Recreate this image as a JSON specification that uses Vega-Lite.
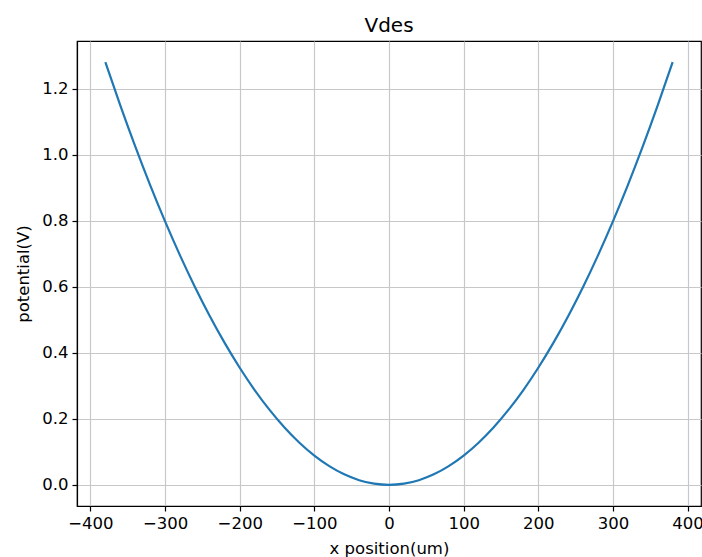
{
  "$schema": "https://vega.github.io/schema/vega-lite/v6.json",
  "autosize": "none",
  "width": 624,
  "height": 465,
  "padding": {"left": 77, "top": 41, "right": 1, "bottom": 51},
  "background": "white",
  "title": {"text": "Vdes", "font": "DejaVu Sans", "fontSize": 20, "fontWeight": "normal", "color": "black", "offset": 5},
  "config": {
    "view": {"stroke": "black", "strokeWidth": 1.2},
    "axis": {
      "labelFont": "DejaVu Sans", "labelFontSize": 16.5, "labelColor": "black",
      "titleFont": "DejaVu Sans", "titleFontSize": 16.5, "titleFontWeight": "normal", "titleColor": "black",
      "domainColor": "black", "domainWidth": 1.2,
      "tickColor": "black", "tickSize": 5, "tickWidth": 1.2,
      "gridColor": "#c8c8c8", "gridWidth": 1.2, "labelPadding": 4
    }
  },
  "data": {"values": [
    {"x": -380, "y": 1.28},
    {"x": -360, "y": 1.148809},
    {"x": -340, "y": 1.024709},
    {"x": -320, "y": 0.907701},
    {"x": -300, "y": 0.797784},
    {"x": -280, "y": 0.694958},
    {"x": -260, "y": 0.599224},
    {"x": -240, "y": 0.510582},
    {"x": -220, "y": 0.42903},
    {"x": -200, "y": 0.354571},
    {"x": -180, "y": 0.287202},
    {"x": -160, "y": 0.226925},
    {"x": -140, "y": 0.17374},
    {"x": -120, "y": 0.127645},
    {"x": -100, "y": 0.088643},
    {"x": -80, "y": 0.056731},
    {"x": -60, "y": 0.031911},
    {"x": -40, "y": 0.014183},
    {"x": -20, "y": 0.003546},
    {"x": 0, "y": 0},
    {"x": 20, "y": 0.003546},
    {"x": 40, "y": 0.014183},
    {"x": 60, "y": 0.031911},
    {"x": 80, "y": 0.056731},
    {"x": 100, "y": 0.088643},
    {"x": 120, "y": 0.127645},
    {"x": 140, "y": 0.17374},
    {"x": 160, "y": 0.226925},
    {"x": 180, "y": 0.287202},
    {"x": 200, "y": 0.354571},
    {"x": 220, "y": 0.42903},
    {"x": 240, "y": 0.510582},
    {"x": 260, "y": 0.599224},
    {"x": 280, "y": 0.694958},
    {"x": 300, "y": 0.797784},
    {"x": 320, "y": 0.907701},
    {"x": 340, "y": 1.024709},
    {"x": 360, "y": 1.148809},
    {"x": 380, "y": 1.28}
  ]},
  "mark": {"type": "line", "color": "#1f77b4", "strokeWidth": 2.2, "interpolate": "monotone", "clip": true},
  "encoding": {
    "x": {
      "field": "x", "type": "quantitative",
      "scale": {"domain": [-418, 418], "nice": false, "zero": false},
      "axis": {"values": [-400, -300, -200, -100, 0, 100, 200, 300, 400], "format": "d", "title": "x position(um)", "titleY": 34}
    },
    "y": {
      "field": "y", "type": "quantitative",
      "scale": {"domain": [-0.064, 1.344], "nice": false, "zero": false},
      "axis": {"values": [0, 0.2, 0.4, 0.6, 0.8, 1.0, 1.2], "format": ".1f", "title": "potential(V)", "titleX": -46}
    }
  }
}
